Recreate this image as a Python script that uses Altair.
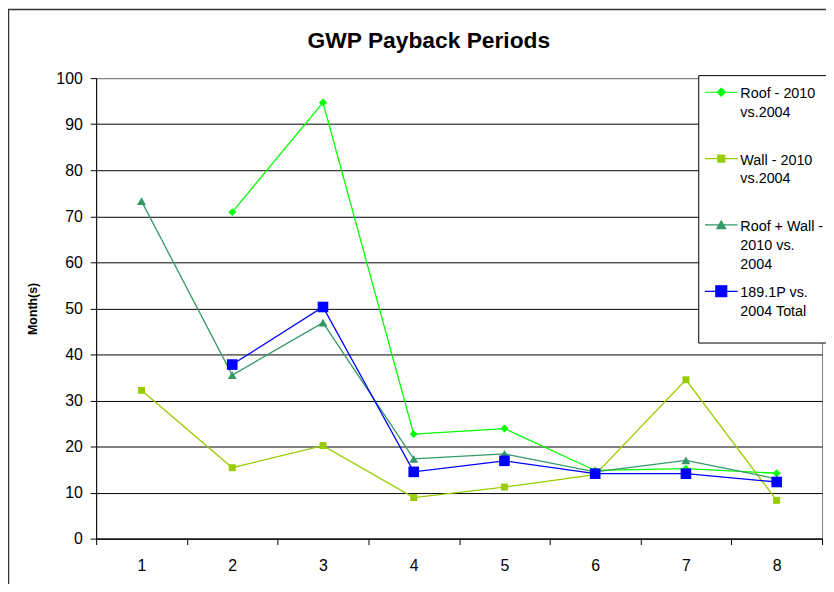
import altair as alt
import pandas as pd

# ---------------- data ----------------
categories = [1, 2, 3, 4, 5, 6, 7, 8]
roof = [None, 70.9, 94.7, 22.7, 23.9, 14.8, 15.2, 14.2]
wall = [32.2, 15.4, 20.2, 8.9, 11.2, 13.9, 34.5, 8.3]
roof_wall = [73.3, 35.5, 46.9, 17.3, 18.4, 14.5, 17.0, 13.0]
total = [None, 37.8, 50.3, 14.5, 16.9, 14.1, 14.1, 12.3]

series_values = [roof, wall, roof_wall, total]
legend_lines = [
    ["Roof - 2010", "vs.2004"],
    ["Wall - 2010", "vs.2004"],
    ["Roof + Wall -", "2010 vs.", "2004"],
    ["189.1P vs.", "2004 Total"],
]
colors = ["#00FF00", "#99CC00", "#339966", "#0000FF"]
shapes = ["diamond", "square", "triangle-up", "square"]
sizes = [64, 49, 80, 115]
chart_title = "GWP Payback Periods"
y_title = "Month(s)"
y_ticks = list(range(0, 101, 10))

FONT = "Liberation Sans"
W, H = 733, 465

# legend symbols: line segment + marker (units: 1 = 5px)
legend_paths = [
    "M-3.3,1L3.3,1M0,0.2L0.8,1L0,1.8L-0.8,1Z",
    "M-3.3,1L3.3,1M-0.7,0.3L0.7,0.3L0.7,1.7L-0.7,1.7Z",
    "M-3.3,1L3.3,1M0,0.2L0.9,1.75L-0.9,1.75Z",
    "M-3.3,1L3.3,1M-1.1,-0.1L1.1,-0.1L1.1,2.1L-1.1,2.1Z",
]
keys = ["|".join(l + [" "] * (3 - len(l))) for l in legend_lines]

x_enc = alt.X(
    "Category:O",
    scale=alt.Scale(type="band", domain=categories, paddingInner=0, paddingOuter=0),
    axis=alt.Axis(
        title=None, labelAngle=0, tickBand="extent", grid=False,
        domainColor="black", tickColor="black", tickSize=6,
        labelFont=FONT, labelFontSize=16, labelColor="black", labelPadding=13,
    ),
)
y_enc = alt.Y(
    "Value:Q",
    scale=alt.Scale(domain=[0, 100], nice=False, zero=True),
    axis=alt.Axis(
        values=y_ticks, grid=True,
        gridColor={"condition": {"test": "datum.value == 100", "value": "#808080"}, "value": "black"},
        gridWidth=1, domainColor="black", tickColor="black", tickSize=6,
        labelFont=FONT, labelFontSize=16, labelColor="black", labelPadding=8,
        title=y_title, titleFont=FONT, titleFontSize=12.5, titleFontWeight="bold",
        titleColor="black", titleX=-64, titleY=H / 2, titleBaseline="middle",
    ),
)

layers = []

# outer chart-area border (decoration)
border = alt.Chart(pd.DataFrame({"a": [0]})).mark_rect(
    fill="transparent", stroke="#333333", strokeWidth=1.5
).encode(
    x=alt.value(-88.5), x2=alt.value(W + 60), y=alt.value(-69.3), y2=alt.value(H + 80)
)
layers.append(border)

for vals, col, shp, sz in zip(series_values, colors, shapes, sizes):
    df = pd.DataFrame(
        [{"Category": c, "Value": v} for c, v in zip(categories, vals) if v is not None]
    )
    base = alt.Chart(df).encode(x=x_enc, y=y_enc)
    layers.append(base.mark_line(color=col, strokeWidth=1.3))
    layers.append(base.mark_point(filled=True, shape=shp, size=sz, color=col, opacity=1))

# legend-only layer
leg = alt.Legend(
    title=None, orient="none", legendX=608, legendY=-3,
    labelExpr="split(datum.label, '|')",
    labelFont=FONT, labelFontSize=14.5, labelColor="black",
    labelBaseline="top", labelLimit=200, labelOffset=12,
    symbolSize=100, symbolStrokeWidth=1.2, symbolOffset=11,
    rowPadding=8, padding=5, strokeColor="black", fillColor="white",
    cornerRadius=0,
)
legend_df = pd.DataFrame({"Key": keys})
legend_layer = alt.Chart(legend_df).transform_filter("false").mark_point(
    filled=True, strokeWidth=1.2, opacity=1
).encode(
    fill=alt.Fill("Key:N", scale=alt.Scale(domain=keys, range=colors), legend=leg),
    stroke=alt.Stroke("Key:N", scale=alt.Scale(domain=keys, range=colors), legend=leg),
    shape=alt.Shape("Key:N", scale=alt.Scale(domain=keys, range=legend_paths), legend=leg),
)
layers.append(legend_layer)

# title
title_layer = alt.Chart(pd.DataFrame({"a": [0]})).mark_text(
    text=chart_title, font=FONT, fontSize=23, fontWeight="bold", color="black",
    align="center", baseline="alphabetic"
).encode(x=alt.value(336), y=alt.value(-30))
layers.append(title_layer)

chart = alt.layer(*layers).properties(
    width=W, height=H,
    autosize=alt.AutoSizeParams(type="none"),
    padding={"left": 89, "top": 68, "right": 4, "bottom": 43},
).configure(
    background="white", style={"guide-label": {"lineHeight": 19}}
).configure_view(stroke="#808080", strokeWidth=1)

chart.save("out.html", embed_options={"renderer": "svg", "actions": False})
